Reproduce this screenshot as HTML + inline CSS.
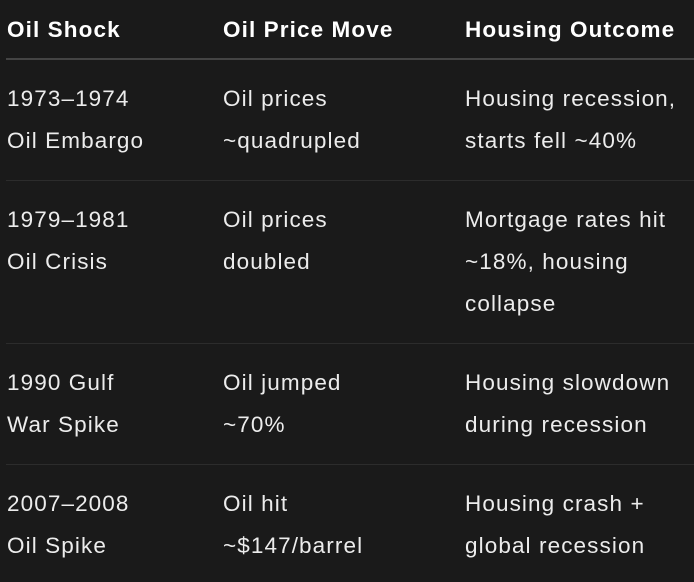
<!DOCTYPE html>
<html><head><style>
body{margin:0;background:#1a1a1a;width:694px;height:582px;overflow:hidden;font-family:"Liberation Sans",sans-serif;color:#ececec;font-size:22.5px;letter-spacing:1.1px;position:relative}
.t{position:absolute;line-height:42px;white-space:nowrap}
.h{font-weight:bold;color:#fff;top:9px;line-height:42px}
.l{position:absolute;left:6px;width:688px;height:1px;background:#2c2c2c}
</style></head><body>
<div class="t h" style="left:7px">Oil Shock</div>
<div class="t h" style="left:223px">Oil Price Move</div>
<div class="t h" style="left:465px">Housing Outcome</div>
<div class="l" style="top:58px;height:2px;background:#444"></div>

<div class="t" style="left:7px;top:78px">1973–1974<br>Oil Embargo</div>
<div class="t" style="left:223px;top:78px">Oil prices<br>~quadrupled</div>
<div class="t" style="left:465px;top:78px">Housing recession,<br>starts fell ~40%</div>
<div class="l" style="top:180px"></div>

<div class="t" style="left:7px;top:199px">1979–1981<br>Oil Crisis</div>
<div class="t" style="left:223px;top:199px">Oil prices<br>doubled</div>
<div class="t" style="left:465px;top:199px">Mortgage rates hit<br>~18%, housing<br>collapse</div>
<div class="l" style="top:343px"></div>

<div class="t" style="left:7px;top:362px">1990 Gulf<br>War Spike</div>
<div class="t" style="left:223px;top:362px">Oil jumped<br>~70%</div>
<div class="t" style="left:465px;top:362px">Housing slowdown<br>during recession</div>
<div class="l" style="top:464px"></div>

<div class="t" style="left:7px;top:483px">2007–2008<br>Oil Spike</div>
<div class="t" style="left:223px;top:483px">Oil hit<br>~$147/barrel</div>
<div class="t" style="left:465px;top:483px">Housing crash +<br>global recession</div>
</body></html>
